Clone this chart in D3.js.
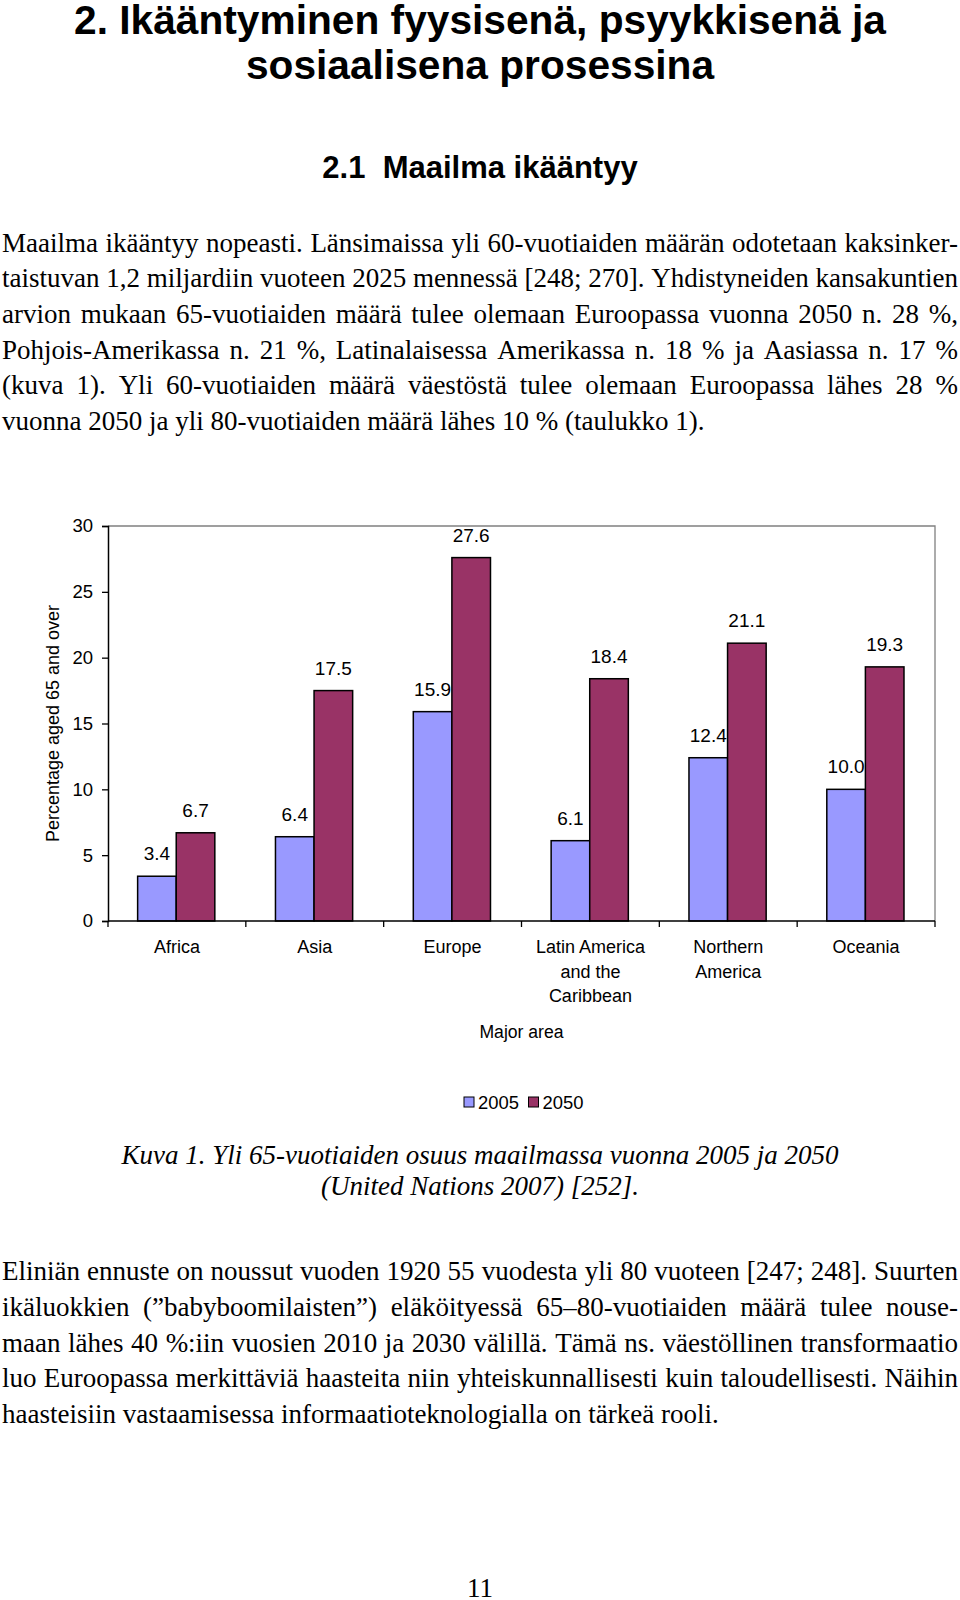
<!DOCTYPE html>
<html>
<head>
<meta charset="utf-8">
<script src="https://cdn.jsdelivr.net/npm/d3@7"></script>
<style>
  html, body { margin: 0; padding: 0; background: #fff; }
  svg { display: block; }
</style>
</head>
<body>
<svg id="page" width="960" height="1600"></svg>
<script>
// ---------- DATA ----------
const categories = ["Africa", "Asia", "Europe", "Latin America|and the|Caribbean", "Northern|America", "Oceania"];
const series = ["2005", "2050"];
const values2005 = [3.4, 6.4, 15.9, 6.1, 12.4, 10.0];
const values2050 = [6.7, 17.5, 27.6, 18.4, 21.1, 19.3];
const yTicks = [0, 5, 10, 15, 20, 25, 30];
const seriesColors = ["#9999FF", "#993366"];

const titleLines = ["2. Ikääntyminen fyysisenä, psyykkisenä ja", "sosiaalisena prosessina"];
const subtitle = "2.1  Maailma ikääntyy";
const para1 = [
  "Maailma ikääntyy nopeasti. Länsimaissa yli 60-vuotiaiden määrän odotetaan kaksinker-",
  "taistuvan 1,2 miljardiin vuoteen 2025 mennessä [248; 270]. Yhdistyneiden kansakuntien",
  "arvion mukaan 65-vuotiaiden määrä tulee olemaan Euroopassa vuonna 2050 n. 28 %,",
  "Pohjois-Amerikassa n. 21 %, Latinalaisessa Amerikassa n. 18 % ja Aasiassa n. 17 %",
  "(kuva 1). Yli 60-vuotiaiden määrä väestöstä tulee olemaan Euroopassa lähes 28 %",
  "vuonna 2050 ja yli 80-vuotiaiden määrä lähes 10 % (taulukko 1)."
];
const caption = ["Kuva 1. Yli 65-vuotiaiden osuus maailmassa vuonna 2005 ja 2050", "(United Nations 2007) [252]."];
const para2 = [
  "Eliniän ennuste on noussut vuoden 1920 55 vuodesta yli 80 vuoteen [247; 248]. Suurten",
  "ikäluokkien (”babyboomilaisten”) eläköityessä 65–80-vuotiaiden määrä tulee nouse-",
  "maan lähes 40 %:iin vuosien 2010 ja 2030 välillä. Tämä ns. väestöllinen transformaatio",
  "luo Euroopassa merkittäviä haasteita niin yhteiskunnallisesti kuin taloudellisesti. Näihin",
  "haasteisiin vastaamisessa informaatioteknologialla on tärkeä rooli."
];
const pageNumber = "11";
const yAxisTitle = "Percentage aged 65 and over";
const xAxisTitle = "Major area";

// ---------- PAGE ----------
const svg = d3.select("#page");
svg.append("rect").attr("width", 960).attr("height", 1600).attr("fill", "#fff");

const sans = "'Liberation Sans', Arial, sans-serif";
const serif = "'Liberation Serif', 'Times New Roman', serif";

// Headings
svg.selectAll("text.title").data(titleLines).join("text")
  .attr("class", "title")
  .attr("x", 480).attr("y", (d, i) => 34 + i * 45)
  .attr("text-anchor", "middle")
  .attr("font-family", sans).attr("font-weight", "bold").attr("font-size", 40.7)
  .attr("fill", "#000").text(d => d);

svg.append("text")
  .attr("x", 480).attr("y", 178)
  .attr("text-anchor", "middle")
  .attr("font-family", sans).attr("font-weight", "bold").attr("font-size", 31)
  .style("white-space", "pre")
  .attr("fill", "#000").text(subtitle);

// Justified paragraph helper
function paragraph(lines, y0, lh) {
  const left = 2, right = 958;
  lines.forEach((line, i) => {
    const y = y0 + i * lh;
    const last = i === lines.length - 1;
    if (last) {
      svg.append("text").attr("x", left).attr("y", y)
        .attr("font-family", serif).attr("font-size", 27).attr("fill", "#000")
        .text(line);
      return;
    }
    const words = line.split(" ");
    const t = svg.append("text").attr("y", y)
      .attr("font-family", serif).attr("font-size", 27).attr("fill", "#000");
    const spans = words.map(w => t.append("tspan").text(w));
    const widths = spans.map(s => s.node().getComputedTextLength());
    const total = d3.sum(widths);
    const gap = (right - left - total) / (words.length - 1);
    let x = left;
    spans.forEach((s, k) => { s.attr("x", x); x += widths[k] + gap; });
  });
}
paragraph(para1, 251.5, 35.7);
paragraph(para2, 1280, 35.8);

// Caption
svg.selectAll("text.caption").data(caption).join("text")
  .attr("class", "caption")
  .attr("x", 480).attr("y", (d, i) => 1164 + i * 30.5)
  .attr("text-anchor", "middle")
  .attr("font-family", serif).attr("font-style", "italic").attr("font-size", 27)
  .attr("fill", "#000").text(d => d);

// Page number
svg.append("text").attr("x", 480).attr("y", 1597)
  .attr("text-anchor", "middle")
  .attr("font-family", serif).attr("font-size", 27).attr("fill", "#000")
  .text(pageNumber);

// ---------- CHART ----------
const plot = { left: 108, right: 935, top: 526, bottom: 921 };
const x0 = d3.scaleBand().domain(categories).range([plot.left, plot.right]).padding(0);
const bw = x0.bandwidth();
const x1 = d3.scaleBand().domain(series).range([bw * 0.215, bw * 0.215 + bw * 0.56]).padding(0);
const y = d3.scaleLinear().domain([0, 30]).range([plot.bottom, plot.top]);
const color = d3.scaleOrdinal().domain(series).range(seriesColors);

const chart = svg.append("g");

// plot border (top & right gray)
chart.append("path")
  .attr("d", `M${plot.left},${plot.top}H${plot.right}V${plot.bottom}`)
  .attr("fill", "none").attr("stroke", "#808080").attr("stroke-width", 1.3);

const rows = categories.map((c, i) => ({ cat: c, vals: [values2005[i], values2050[i]] }));

const groups = chart.selectAll("g.grp").data(rows).join("g")
  .attr("class", "grp")
  .attr("transform", d => `translate(${x0(d.cat)},0)`);

groups.selectAll("rect").data(d => series.map((s, k) => ({ s, v: d.vals[k] }))).join("rect")
  .attr("x", d => x1(d.s))
  .attr("y", d => y(d.v))
  .attr("width", x1.bandwidth())
  .attr("height", d => y(0) - y(d.v))
  .attr("fill", d => color(d.s))
  .attr("stroke", "#000").attr("stroke-width", 1.5);

groups.selectAll("text.val").data(d => series.map((s, k) => ({ s, v: d.vals[k] }))).join("text")
  .attr("class", "val")
  .attr("x", d => x1(d.s) + x1.bandwidth() / 2)
  .attr("y", d => y(d.v) - 16)
  .attr("text-anchor", "middle")
  .attr("font-family", sans).attr("font-size", 19).attr("fill", "#000")
  .text(d => d.v.toFixed(1));

// Y axis
const yAxis = chart.append("g")
  .attr("transform", `translate(${plot.left},0)`)
  .call(d3.axisLeft(y).tickValues(yTicks).tickSize(6).tickPadding(9).tickFormat(d3.format("d")));
yAxis.select(".domain").attr("stroke", "#000").attr("stroke-width", 1.5);
yAxis.selectAll(".tick line").attr("stroke", "#000").attr("stroke-width", 1.3);
yAxis.selectAll(".tick text").attr("font-family", sans).attr("font-size", 18.5).attr("fill", "#000");

// X axis (ticks at category boundaries)
const xBounds = categories.map(c => x0(c)).concat([x0.range()[1]]);
chart.append("line")
  .attr("x1", plot.left).attr("x2", plot.right)
  .attr("y1", y(0)).attr("y2", y(0))
  .attr("stroke", "#000").attr("stroke-width", 1.5);
chart.selectAll("line.xt").data(xBounds).join("line")
  .attr("class", "xt")
  .attr("x1", d => d).attr("x2", d => d)
  .attr("y1", y(0)).attr("y2", y(0) + 6)
  .attr("stroke", "#000").attr("stroke-width", 1.3);

chart.selectAll("text.cat").data(categories).join("text")
  .attr("class", "cat")
  .attr("text-anchor", "middle")
  .attr("font-family", sans).attr("font-size", 18).attr("fill", "#000")
  .each(function (d) {
    const t = d3.select(this);
    d.split("|").forEach((ln, k) => {
      t.append("tspan").attr("x", x0(d) + bw / 2).attr("y", 953 + k * 24.5).text(ln);
    });
  });

// Axis titles
chart.append("text")
  .attr("transform", `translate(59,${(plot.top + plot.bottom) / 2}) rotate(-90)`)
  .attr("text-anchor", "middle")
  .attr("font-family", sans).attr("font-size", 18).attr("fill", "#000")
  .text(yAxisTitle);

chart.append("text")
  .attr("x", (plot.left + plot.right) / 2).attr("y", 1038)
  .attr("text-anchor", "middle")
  .attr("font-family", sans).attr("font-size", 17.6).attr("fill", "#000")
  .text(xAxisTitle);

// Legend
const legendX = [464, 528.5];
const leg = chart.selectAll("g.leg").data(series).join("g")
  .attr("class", "leg")
  .attr("transform", (d, i) => `translate(${legendX[i]},1097)`);
leg.append("rect").attr("width", 10).attr("height", 10)
  .attr("fill", d => color(d)).attr("stroke", "#000").attr("stroke-width", 1);
leg.append("text").attr("x", 14).attr("y", 11.5)
  .attr("font-family", sans).attr("font-size", 18.4).attr("fill", "#000")
  .text(d => d);
</script>
</body>
</html>
